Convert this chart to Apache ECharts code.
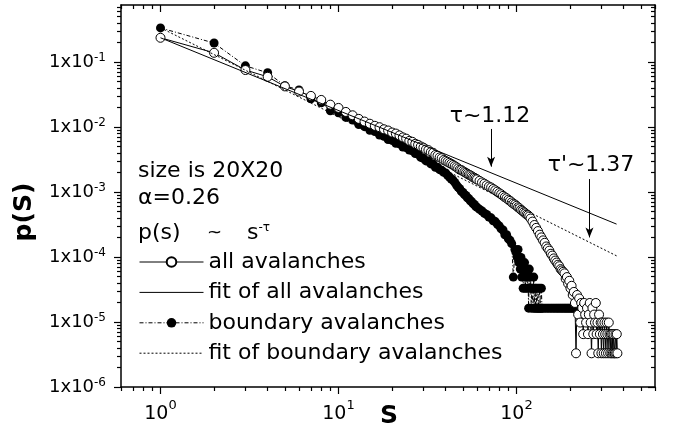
<!DOCTYPE html>
<html lang="en">
<head>
<meta charset="UTF-8">
<title>p(S) - avalanche size distribution</title>
<script src="https://cdn.jsdelivr.net/npm/echarts@6.0.0/dist/echarts.min.js"></script>
<style>
  body { margin: 0; background: #fff; }
  #chart { width: 673px; height: 434px; }
</style>
</head>
<body>
<div id="chart"></div>
<script>
// all avalanches (open circles)
var allS = [1,2,3,4,5,6,7,8,9,10,11,12,13,14,15,16,17,18,19,20,
  21,22,23,24,25,26,27,28,29,30,31,32,33,34,35,36,37,38,39,40,
  41,42,43,44,45,46,47,48,49,50,51,52,53,54,55,56,57,58,59,60,
  62,64,66,68,70,72,74,76,78,80,82,84,86,88,90,92,94,96,98,100,
  102,104,106,108,110,112,114,116,118,120,
  123,126,129,132,135,138,141,144,147,150,153,156,159,162,165,168,171,174,177,180,
  183,186,189,192,195,198,201,204,207,210,213,216,219,222,225,228,231,234,237,240,
  243,246,249,252,255,258,261,264,267,270,273,276,279,282,285,288,291,294,297,300,
  303,306,309,312,315,318,321,324,327,330,333,336,339,342,345,348,351,354,357,360,
  363,366,369];
var allP = [0.235,0.138,0.075,0.059,0.042,0.035,0.030,0.026,0.022,0.0196,
  0.0170,0.0151,0.0133,0.0121,0.0112,0.0104,0.0099,0.0092,0.0088,0.0082,
  0.0079,0.0074,0.0069,0.0066,0.0061,0.0059,0.0055,0.0053,0.0050,0.0048,
  0.0045,0.0044,0.0041,0.0040,0.0037,0.0036,0.0034,0.0033,0.0031,0.0030,
  0.0029,0.0028,0.0027,0.0026,0.0025,0.0024,0.0023,0.0022,0.00217,0.00209,
  0.00202,0.00196,0.0019,0.00184,0.0018,0.00174,0.00168,0.00165,0.0016,0.00156,
  0.00148,0.0014,0.00134,0.00127,0.00121,0.00117,0.00111,0.00106,0.00101,9.6e-4,
  9.2e-4,8.7e-4,8.3e-4,8.0e-4,7.6e-4,7.3e-4,6.9e-4,6.6e-4,6.4e-4,6.1e-4,
  5.8e-4,5.6e-4,5.3e-4,5.1e-4,4.9e-4,4.7e-4,4.5e-4,4.4e-4,4.2e-4,3.9e-4,
  3.5e-4,3.1e-4,2.8e-4,2.5e-4,2.2e-4,2.0e-4,1.8e-4,1.65e-4,1.45e-4,1.35e-4,
  1.25e-4,1.12e-4,1.05e-4,9.5e-5,8.8e-5,8.2e-5,7.6e-5,7.2e-5,6.5e-5,6.2e-5,
  5.9e-5,5.6e-5,4.6e-5,4.9e-5,3.9e-5,4.3e-5,3.3e-5,3.6e-5,2.6e-5,2.9e-5,
  1.96e-5,3.3e-6,2.6e-5,1.3e-5,2.3e-5,9.8e-6,1.96e-5,1.64e-5,6.5e-6,1.96e-5,
  1.3e-5,9.8e-6,1.64e-5,6.5e-6,1.3e-5,1.96e-5,9.8e-6,3.3e-6,1.64e-5,6.5e-6,
  1.3e-5,9.8e-6,1.96e-5,6.5e-6,9.8e-6,3.3e-6,1.3e-5,6.5e-6,9.8e-6,3.3e-6,
  9.8e-6,6.5e-6,3.3e-6,9.8e-6,6.5e-6,3.3e-6,9.8e-6,6.5e-6,3.3e-6,9.8e-6,
  6.5e-6,3.3e-6,6.5e-6,3.3e-6,6.5e-6,3.3e-6,6.5e-6,3.3e-6,3.3e-6,6.5e-6,
  3.3e-6,6.5e-6,3.3e-6];

// boundary avalanches (filled circles)
var bndS = [1,2,3,4,5,6,7,8,9,10,11,12,13,14,15,16,17,18,19,20,
  21,22,23,24,25,26,27,28,29,30,31,32,33,34,35,36,37,38,39,40,
  41,42,43,44,45,46,47,48,49,50,51,52,53,54,55,56,57,58,59,60,
  62,64,66,68,70,72,74,76,78,80,82,84,86,88,90,92,94,96,98,
  100,101,102,103,104,105,106,107,108,109,110,111,112,113,114,115,116,117,118,119,
  120,121,122,123,124,125,126,127,128,129,130,131,132,133,134,135,136,137,138,139,140,
  143,146,149,152,155,158,161,164,167,170,173,176,179,182,185,188,191,194,197,200,
  203,206,209,212];
var bndP = [0.333,0.195,0.087,0.068,0.043,0.037,0.027,0.0235,0.0177,0.0165,
  0.0140,0.0128,0.0109,0.0101,0.0089,0.0085,0.0075,0.0072,0.0064,0.0062,
  0.0056,0.0055,0.0049,0.0048,0.0044,0.0043,0.0039,0.0038,0.0034,0.0033,
  0.0030,0.0030,0.0027,0.0027,0.0024,0.0024,0.0022,0.00215,0.0020,0.00196,
  0.0018,0.0017,0.00158,0.00152,0.0014,0.00128,0.00118,0.00112,0.00102,0.00098,
  0.00091,0.00088,0.00081,0.00079,0.00073,0.00071,0.00066,0.00064,0.00060,0.00058,
  0.00054,0.00051,0.00047,0.00045,0.00041,0.00040,0.00036,0.00035,0.00032,0.00030,
  0.00027,0.00026,0.00022,0.00022,0.00019,0.00018,0.00016,4.9e-5,0.00013,
  1.14e-4,9.8e-5,1.3e-4,8.2e-5,9.8e-5,6.5e-5,9.8e-5,4.9e-5,8.2e-5,3.3e-5,
  6.5e-5,8.2e-5,3.3e-5,4.9e-5,6.5e-5,3.3e-5,4.9e-5,1.63e-5,6.5e-5,3.3e-5,
  4.9e-5,1.63e-5,3.3e-5,3.3e-5,1.63e-5,4.9e-5,1.63e-5,3.3e-5,1.63e-5,3.3e-5,
  1.63e-5,1.63e-5,3.3e-5,1.63e-5,1.63e-5,3.3e-5,1.63e-5,1.63e-5,3.3e-5,1.63e-5,1.63e-5,
  1.63e-5,1.63e-5,1.63e-5,1.63e-5,1.63e-5,1.63e-5,1.63e-5,1.63e-5,1.63e-5,1.63e-5,
  1.63e-5,1.63e-5,1.63e-5,1.63e-5,1.63e-5,1.63e-5,1.63e-5,1.63e-5,1.63e-5,1.63e-5,
  1.63e-5,1.63e-5,1.63e-5,1.63e-5];

// power-law fits (end points)
var fitAllS = [1, 365];
var fitAllP = [0.235, 3.2e-4];
var fitBndS = [1, 365];
var fitBndP = [0.335, 1.04e-4];

// arrows marking the fits: [S, p from, p to]
var arrowAll = [72, 9.3e-3, 2.45e-3];
var arrowBnd = [257, 1.58e-3, 2.0e-4];

var xMajor = [1, 10, 100];
var yMajor = [1e-6, 1e-5, 1e-4, 1e-3, 1e-2, 1e-1];
var xMin = 0.6, xMax = 600, yMin = 1e-6, yMax = 0.75;

function minorTicks(decades, lo, hi) {
  var out = [];
  decades.forEach(function (d) {
    for (var k = 2; k <= 9; k++) {
      var v = k * d;
      if (v >= lo && v <= hi) out.push(v);
    }
  });
  return out;
}
var xMinor = minorTicks([0.1, 1, 10, 100], xMin, xMax);
var yMinor = minorTicks([1e-6, 1e-5, 1e-4, 1e-3, 1e-2, 1e-1], yMin, yMax);

function pairs(xs, ys) {
  return xs.map(function (x, i) { return [x, ys[i]]; });
}

var FONT = 'DejaVu Sans';

function xAxisDef(pos, vals, len, main) {
  return {
    type: 'log', min: xMin, max: xMax, position: pos,
    axisLine: { show: main, onZero: false, lineStyle: { color: '#000', width: 1.5 } },
    axisTick: { show: true, inside: pos === 'top', length: len, customValues: vals,
      lineStyle: { color: '#000', width: 1.2 } },
    axisLabel: (main && pos === 'bottom') ? {
      show: true, customValues: xMajor, margin: 12, color: '#000',
      fontFamily: FONT, fontSize: 19, lineHeight: 30,
      formatter: function (v) { return '10{s|' + Math.round(Math.log10(v)) + '}'; },
      rich: { s: { fontFamily: FONT, fontSize: 13, verticalAlign: 'top', lineHeight: 14 } }
    } : { show: false },
    splitLine: { show: false },
    minorTick: { show: false }
  };
}

function yAxisDef(pos, vals, len, main) {
  return {
    type: 'log', min: yMin, max: yMax, position: pos,
    axisLine: { show: main, onZero: false, lineStyle: { color: '#000', width: 1.5 } },
    axisTick: { show: true, inside: pos === 'right', length: len, customValues: vals,
      lineStyle: { color: '#000', width: 1.2 } },
    axisLabel: (main && pos === 'left') ? {
      show: true, customValues: yMajor, margin: 15, color: '#000',
      fontFamily: FONT, fontSize: 18, lineHeight: 20,
      formatter: function (v) { return '1x10{s|' + Math.round(Math.log10(v)) + '}'; },
      rich: { s: { fontFamily: FONT, fontSize: 12, verticalAlign: 'top', lineHeight: 13 } }
    } : { show: false },
    splitLine: { show: false },
    minorTick: { show: false }
  };
}

var chart = echarts.init(document.getElementById('chart'));

// legend entries; the fit entries hide the marker
var noMark = { opacity: 0 };
var thin = { width: 1 };

var option = {
  animation: false,
  backgroundColor: '#fff',
  grid: { left: 121, right: 18, top: 5, bottom: 47, containLabel: false, outerBoundsMode: 'none' },
  xAxis: [
    xAxisDef('bottom', xMajor, 7, true),
    xAxisDef('bottom', xMinor, 4, false),
    xAxisDef('top', xMajor, 7, true),
    xAxisDef('top', xMinor, 4, false)
  ],
  yAxis: [
    yAxisDef('left', yMajor, 7, true),
    yAxisDef('left', yMinor, 4, false),
    yAxisDef('right', yMajor, 7, true),
    yAxisDef('right', yMinor, 4, false)
  ],
  legend: {
    data: [
      { name: 'all avalanches', lineStyle: thin },
      { name: 'fit of all avalanches', itemStyle: noMark, lineStyle: thin },
      { name: 'boundary avalanches', lineStyle: thin },
      { name: 'fit of boundary avalanches', itemStyle: noMark, lineStyle: thin }
    ],
    orient: 'vertical', left: 139, top: 251, padding: 0,
    itemWidth: 64, itemHeight: 12, itemGap: 8.4,
    selectedMode: false,
    textStyle: { fontFamily: FONT, fontSize: 22, color: '#000', lineHeight: 22 }
  },
  graphic: [
    { type: 'text', x: 138, y: 171, style: { text: 'size is 20X20', fontFamily: FONT, fontSize: 22, fill: '#000', verticalAlign: 'middle' } },
    { type: 'text', x: 138, y: 198, style: { text: 'α=0.26', fontFamily: FONT, fontSize: 22, fill: '#000', verticalAlign: 'middle' } },
    { type: 'text', x: 138, y: 233, style: { text: 'p(s)', fontFamily: FONT, fontSize: 22, fill: '#000', verticalAlign: 'middle' } },
    { type: 'text', x: 207, y: 233, style: { text: '~', fontFamily: FONT, fontSize: 18, fill: '#000', verticalAlign: 'middle' } },
    { type: 'text', x: 247, y: 233, style: { text: 's{s|-τ}', fontFamily: FONT, fontSize: 22, fill: '#000', verticalAlign: 'middle',
      rich: { s: { fontFamily: FONT, fontSize: 12, verticalAlign: 'top', lineHeight: 12 } } } },
    { type: 'text', x: 490, y: 116, style: { text: 'τ~1.12', fontFamily: FONT, fontSize: 22, fill: '#000', align: 'center', verticalAlign: 'middle' } },
    { type: 'text', x: 591, y: 165, style: { text: 'τ\'~1.37', fontFamily: FONT, fontSize: 22, fill: '#000', align: 'center', verticalAlign: 'middle' } },
    { type: 'text', x: 24, y: 212, rotation: Math.PI / 2, style: { text: 'p(S)', fontFamily: FONT, fontWeight: 'bold', fontSize: 25, fill: '#000', align: 'center', verticalAlign: 'middle' } },
    { type: 'text', x: 389, y: 416, style: { text: 'S', fontFamily: FONT, fontWeight: 'bold', fontSize: 25, fill: '#000', align: 'center', verticalAlign: 'middle' } }
  ],
  series: [
    {
      name: 'boundary avalanches', type: 'line', z: 2,
      data: pairs(bndS, bndP),
      symbol: 'circle', symbolSize: 9,
      itemStyle: { color: '#000' },
      lineStyle: { color: '#000', width: 1, type: [4, 2, 1, 2] }
    },
    {
      name: 'all avalanches', type: 'line', z: 3,
      data: pairs(allS, allP),
      symbol: 'circle', symbolSize: 9,
      itemStyle: { color: '#fff', borderColor: '#000', borderWidth: 1 },
      lineStyle: { color: '#000', width: 1 }
    },
    {
      name: 'fit of all avalanches', type: 'line', z: 4,
      data: pairs(fitAllS, fitAllP),
      symbol: 'none',
      itemStyle: { color: '#000' },
      lineStyle: { color: '#000', width: 1 },
      markLine: {
        silent: true, symbol: ['none', 'arrow'], symbolSize: [6, 10],
        label: { show: false },
        lineStyle: { color: '#000', width: 1, type: 'solid' },
        data: [[{ coord: [arrowAll[0], arrowAll[1]] }, { coord: [arrowAll[0], arrowAll[2]] }]]
      }
    },
    {
      name: 'fit of boundary avalanches', type: 'line', z: 4,
      data: pairs(fitBndS, fitBndP),
      symbol: 'none',
      itemStyle: { color: '#000' },
      lineStyle: { color: '#000', width: 1, type: [2, 2] },
      markLine: {
        silent: true, symbol: ['none', 'arrow'], symbolSize: [6, 10],
        label: { show: false },
        lineStyle: { color: '#000', width: 1, type: 'solid' },
        data: [[{ coord: [arrowBnd[0], arrowBnd[1]] }, { coord: [arrowBnd[0], arrowBnd[2]] }]]
      }
    }
  ]
};

chart.setOption(option);
</script>
</body>
</html>
